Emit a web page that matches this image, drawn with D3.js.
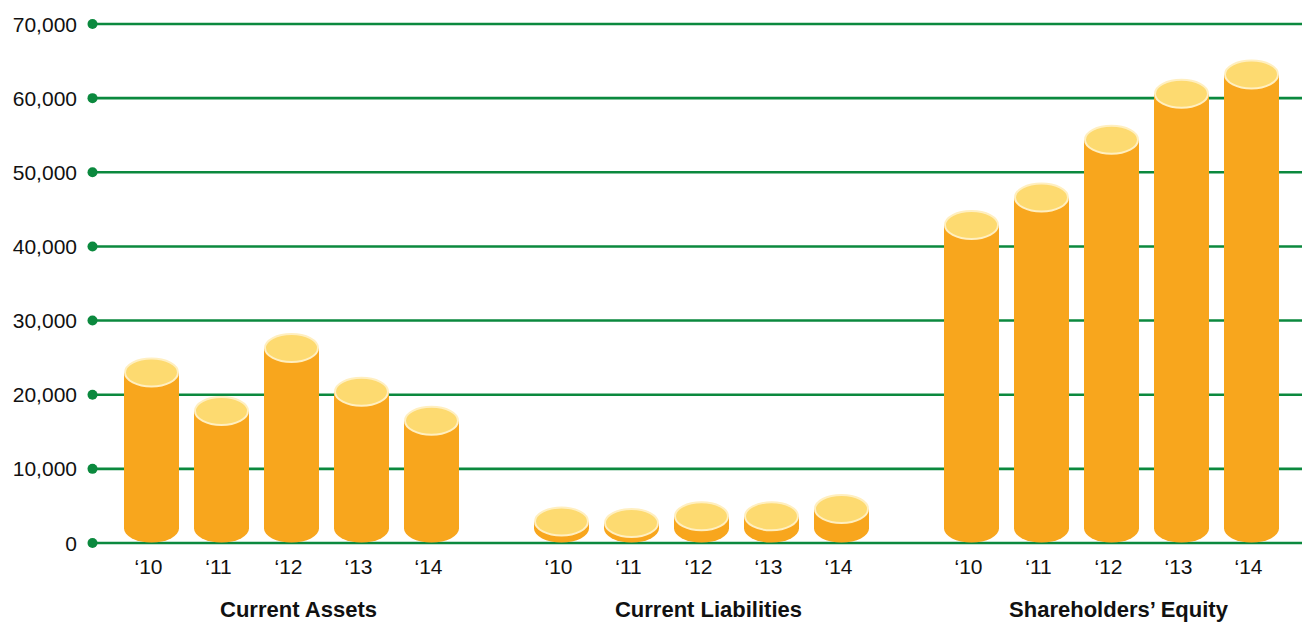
<!DOCTYPE html>
<html><head><meta charset="utf-8">
<script src="https://cdn.jsdelivr.net/npm/d3@7"></script>
<style>body{margin:0;background:#fff;}svg{display:block;font-family:"Liberation Sans",Arial,sans-serif;}</style>
</head><body>
<svg id="c" width="1302" height="622"></svg>
<script>
const groups = ["Current Assets", "Current Liabilities", "Shareholders\u2019 Equity"];
const years = ["\u201810", "\u201811", "\u201812", "\u201813", "\u201814"];
const currentAssets = [23000, 17800, 26300, 20400, 16500];
const currentLiabilities = [2900, 2700, 3600, 3600, 4600];
const shareholdersEquity = [42900, 46600, 54400, 60600, 63200];
const yTicks = [0, 10000, 20000, 30000, 40000, 50000, 60000, 70000];

const seriesByGroup = [currentAssets, currentLiabilities, shareholdersEquity];
const data = [];
groups.forEach((g, gi) => years.forEach((yr, yi) => data.push({group: g, year: yr, value: seriesByGroup[gi][yi]})));

const svg = d3.select("#c");
const y = d3.scaleLinear().domain([0, 70000]).range([543, 24]);
const gx = d3.scaleBand().domain(groups).range([86.5, 1316.5]).padding(0);
const ix = d3.scaleBand().domain(years).range([-175, 175]).paddingInner(15/70).paddingOuter(7.5/70);
const barCenter = d => gx(d.group) + gx.bandwidth()/2 + ix(d.year) + ix.bandwidth()/2;

const green = "#0B893E";
// gridlines
const grid = svg.append("g");
grid.selectAll("line").data(yTicks).join("line")
  .attr("x1", 92.5).attr("x2", 1302).attr("y1", d => y(d)).attr("y2", d => y(d))
  .attr("stroke", green).attr("stroke-width", 2.6);
grid.selectAll("circle").data(yTicks).join("circle")
  .attr("cx", 92.5).attr("cy", d => y(d)).attr("r", 5).attr("fill", green);
grid.selectAll("text").data(yTicks).join("text")
  .attr("x", 77).attr("y", d => y(d)).attr("dy", "0.36em").attr("text-anchor", "end")
  .attr("font-size", 21).attr("fill", "#111").text(d => d3.format(",")(d));

// cylinders
const ry = 14;
const bars = svg.append("g");
data.forEach(d => {
  const cx = barCenter(d);
  const rx = ix.bandwidth()/2;
  const top = y(d.value);
  const bot = y(0) - ry - 0.5;
  const p = `M${cx-rx},${top} L${cx-rx},${bot} A${rx},${ry} 0 0 0 ${cx+rx},${bot} L${cx+rx},${top} Z`;
  bars.append("path").attr("d", p).attr("fill", "#F8A61D");
  bars.append("ellipse").attr("cx", cx).attr("cy", top).attr("rx", rx - 1).attr("ry", ry)
    .attr("fill", "#FDDA70").attr("stroke", "#FFEFC0").attr("stroke-width", 2);
});

// year labels
const lab = svg.append("g");
data.forEach(d => {
  lab.append("text").attr("x", barCenter(d) - 3).attr("y", 574).attr("text-anchor", "middle")
    .attr("font-size", 21).attr("fill", "#111").text(d.year);
});
lab.selectAll("text.g").data(groups).join("text").attr("class", "g")
  .attr("x", d => gx(d) + gx.bandwidth()/2 + 7).attr("y", 617).attr("text-anchor", "middle")
  .attr("font-size", 22).attr("font-weight", "bold").attr("fill", "#111").text(d => d);
</script>
</body></html>
